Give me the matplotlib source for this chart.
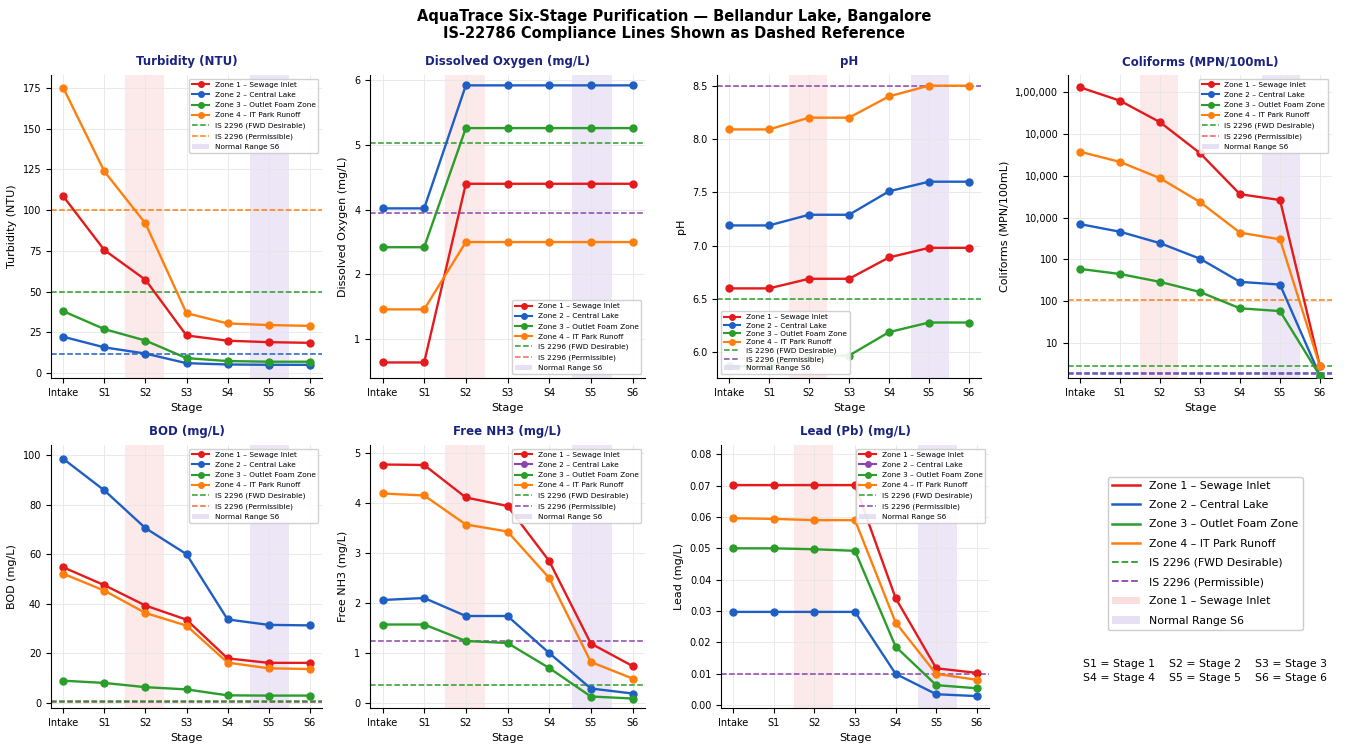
import numpy as np
import matplotlib
matplotlib.use("Agg")
import matplotlib.pyplot as plt
from matplotlib.lines import Line2D
from matplotlib.patches import Patch
from matplotlib.ticker import FixedLocator, FixedFormatter, NullLocator

plt.rcParams['font.family'] = ['DejaVu Sans']

stages = ['Intake', 'S1', 'S2', 'S3', 'S4', 'S5', 'S6']
zones = ['Zone 1 – Sewage Inlet', 'Zone 2 – Central Lake',
         'Zone 3 – Outlet Foam Zone', 'Zone 4 – IT Park Runoff']

turb_z1 = [108.5, 75.5, 57.3, 23.1, 19.9, 19.0, 18.6]
turb_z2 = [22.3, 15.8, 12.0, 6.1, 5.3, 5.1, 5.1]
turb_z3 = [38.0, 27.0, 20.0, 9.2, 7.4, 7.0, 7.0]
turb_z4 = [175.0, 123.8, 91.9, 36.8, 30.5, 29.5, 29.0]

do_z1 = [1.64, 1.64, 4.40, 4.40, 4.40, 4.40, 4.40]
do_z2 = [4.02, 4.02, 5.92, 5.92, 5.92, 5.92, 5.92]
do_z3 = [3.42, 3.42, 5.26, 5.26, 5.26, 5.26, 5.26]
do_z4 = [2.46, 2.46, 3.50, 3.50, 3.50, 3.50, 3.50]

ph_z1 = [6.60, 6.60, 6.69, 6.69, 6.89, 6.98, 6.98]
ph_z2 = [7.19, 7.19, 7.29, 7.29, 7.51, 7.60, 7.60]
ph_z3 = [5.87, 5.87, 5.97, 5.97, 6.19, 6.28, 6.28]
ph_z4 = [8.09, 8.09, 8.20, 8.20, 8.40, 8.50, 8.50]

coli_z1 = [1.32e7, 6.3e6, 1.93e6, 3.5e5, 3.64e4, 2.64e4, 2.75]
coli_z2 = [7.0e3, 4.6e3, 2.45e3, 1.04e3, 290, 250, 1.63]
coli_z3 = [593, 448, 290, 166, 67.5, 58, 1.63]
coli_z4 = [3.78e5, 2.16e5, 8.8e4, 2.36e4, 4.38e3, 3.02e3, 2.75]

bod_z1 = [54.7, 47.5, 39.3, 33.6, 18.0, 16.2, 16.2]
bod_z2 = [98.4, 85.7, 70.5, 60.0, 33.7, 31.5, 31.3]
bod_z3 = [9.0, 8.1, 6.4, 5.5, 3.1, 3.0, 3.0]
bod_z4 = [52.1, 45.3, 36.3, 31.2, 16.3, 14.0, 13.7]

nh3_z1 = [4.77, 4.76, 4.11, 3.94, 2.84, 1.19, 0.74]
nh3_z2 = [2.06, 2.10, 1.74, 1.74, 1.00, 0.29, 0.19]
nh3_z3 = [1.57, 1.57, 1.24, 1.20, 0.70, 0.13, 0.09]
nh3_z4 = [4.19, 4.15, 3.57, 3.43, 2.50, 0.82, 0.49]

pb_z1 = [0.0702, 0.0702, 0.0702, 0.0702, 0.0341, 0.0117, 0.0102]
pb_z2 = [0.0297, 0.0297, 0.0297, 0.0297, 0.0099, 0.0034, 0.0028]
pb_z3 = [0.0500, 0.0500, 0.0497, 0.0492, 0.0186, 0.0063, 0.0053]
pb_z4 = [0.0596, 0.0594, 0.0590, 0.0590, 0.0263, 0.0099, 0.0080]

RED = '#e41a1c'
BLUE = '#1f5fc4'
GREEN = '#2a9d2a'
ORANGE = '#ff7f0e'
PURPLE = '#8e44ad'
NAVY = '#1a237e'
PINK_BAND = '#f9cfcf'
LAV_BAND = '#ddd3f0'

# title, ylabel, data, (value, color) reference lines, legend loc, legend colours (zone2, permissible), ylim
panels = [
    ('Turbidity (NTU)', 'Turbidity (NTU)', [turb_z1, turb_z2, turb_z3, turb_z4],
     [(50, GREEN), (100, ORANGE), (11.5, BLUE)], 'upper right', BLUE, ORANGE, (-3, 183)),
    ('Dissolved Oxygen (mg/L)', 'Dissolved Oxygen (mg/L)', [do_z1, do_z2, do_z3, do_z4],
     [(5.03, GREEN), (3.95, PURPLE)], 'lower right', BLUE, '#ef6a5a', (1.4, 6.08)),
    ('pH', 'pH', [ph_z1, ph_z2, ph_z3, ph_z4],
     [(6.5, GREEN), (8.5, PURPLE)], 'lower left', BLUE, PURPLE, (5.76, 8.6)),
    ('Coliforms (MPN/100mL)', 'Coliforms (MPN/100mL)', [coli_z1, coli_z2, coli_z3, coli_z4],
     [(2.75, GREEN), (105, ORANGE), (1.95, BLUE), (1.85, PURPLE)], 'upper right', BLUE, '#ef5a5a', (1.45, 2.6e7)),
    ('BOD (mg/L)', 'BOD (mg/L)', [bod_z1, bod_z2, bod_z3, bod_z4],
     [(0.9, GREEN), (0.6, '#6b5b4b')], 'upper right', BLUE, '#f4683a', (-2, 104)),
    ('Free NH3 (mg/L)', 'Free NH3 (mg/L)', [nh3_z1, nh3_z2, nh3_z3, nh3_z4],
     [(0.355, GREEN), (1.25, PURPLE)], 'upper right', PURPLE, PURPLE, (-0.1, 5.16)),
    ('Lead (Pb) (mg/L)', 'Lead (mg/L)', [pb_z1, pb_z2, pb_z3, pb_z4],
     [(0.01, PURPLE)], 'upper right', PURPLE, PURPLE, (-0.001, 0.083)),
]

W, H = 1348, 746
rects = [(51, 75, 271, 303), (370, 75, 275, 303), (717, 75, 264, 303), (1068, 75, 264, 303),
         (51, 445, 271, 263), (370, 445, 275, 263), (721, 445, 268, 263)]

fig = plt.figure(figsize=(W / 100, H / 100), dpi=100)
fig.suptitle('AquaTrace Six-Stage Purification — Bellandur Lake, Bangalore\n'
             'IS-22786 Compliance Lines Shown as Dashed Reference',
             fontsize=10.5, fontweight='bold', y=0.988)

x = np.arange(len(stages))
zcolors = [RED, BLUE, GREEN, ORANGE]

for (title, ylab, data, refs, loc, z2col, permcol, ylim), (l, t, w, h) in zip(panels, rects):
    ax = fig.add_axes([l / W, 1 - (t + h) / H, w / W, h / H])
    ax.axvspan(1.5, 2.45, color=PINK_BAND, alpha=0.45, lw=0, zorder=0)
    ax.axvspan(4.55, 5.5, color=LAV_BAND, alpha=0.55, lw=0, zorder=0)
    for val, col in refs:
        ax.axhline(val, color=col, ls='--', lw=1.1, zorder=1)
    for series, col in zip(data, zcolors):
        ax.plot(x, series, color=col, marker='o', ms=5, lw=1.7, zorder=3)
    if title.startswith('Coliforms'):
        ax.set_yscale('log')
        ax.yaxis.set_major_locator(FixedLocator([1e7, 1e6, 1e5, 1e4, 1e3, 1e2, 1e1]))
        ax.yaxis.set_major_formatter(FixedFormatter(['1,00,000', '10,000', '10,000', '10,000',
                                                     '100', '100', '10']))
        ax.yaxis.set_minor_locator(NullLocator())
    if title.startswith('Dissolved'):
        ax.yaxis.set_major_locator(FixedLocator([2, 3, 4, 5, 6]))
        ax.yaxis.set_major_formatter(FixedFormatter(['1', '2', '4', '5', '6']))
    ax.set_ylim(*ylim)
    ax.set_xticks(x)
    ax.set_xticklabels(stages)
    ax.set_title(title, fontsize=8.5, fontweight='bold', color=NAVY, pad=7)
    ax.set_xlabel('Stage', fontsize=8)
    ax.set_ylabel(ylab, fontsize=8)
    ax.tick_params(labelsize=7)
    ax.grid(True, color='#e6e6e6', lw=0.6)
    ax.set_axisbelow(True)
    for s in ['top', 'right']:
        ax.spines[s].set_visible(False)
    handles = [Line2D([], [], color=RED, marker='o', ms=4, lw=1.5),
               Line2D([], [], color=z2col, marker='o', ms=4, lw=1.5),
               Line2D([], [], color=GREEN, marker='o', ms=4, lw=1.5),
               Line2D([], [], color=ORANGE, marker='o', ms=4, lw=1.5),
               Line2D([], [], color=GREEN, ls='--', lw=1.1),
               Line2D([], [], color=permcol, ls='--', lw=1.1),
               Patch(facecolor=LAV_BAND, alpha=0.7, edgecolor='none')]
    labels = zones + ['IS 2296 (FWD Desirable)', 'IS 2296 (Permissible)', 'Normal Range S6']
    leg = ax.legend(handles, labels, loc=loc, fontsize=5.3, framealpha=0.9,
                    handlelength=2.2, labelspacing=0.55 if loc != 'lower left' else 0.3)
    leg.set_zorder(5)

# overall legend panel
lax = fig.add_axes([1068 / W, 1 - 708 / H, 264 / W, 263 / H])
lax.axis('off')
gh = [Line2D([], [], color=RED, lw=1.8),
      Line2D([], [], color=BLUE, lw=1.8),
      Line2D([], [], color=GREEN, lw=1.8),
      Line2D([], [], color=ORANGE, lw=1.8),
      Line2D([], [], color=GREEN, ls='--', lw=1.3),
      Line2D([], [], color=PURPLE, ls='--', lw=1.3),
      Patch(facecolor=PINK_BAND, alpha=0.7, edgecolor='none'),
      Patch(facecolor=LAV_BAND, alpha=0.7, edgecolor='none')]
gl = zones + ['IS 2296 (FWD Desirable)', 'IS 2296 (Permissible)',
              'Zone 1 – Sewage Inlet', 'Normal Range S6']
lax.legend(gh, gl, loc='upper center', bbox_to_anchor=(0.52, 0.90), fontsize=7.8,
           framealpha=1, labelspacing=0.85, handlelength=2.6)
lax.text(0.52, 0.14, 'S1 = Stage 1    S2 = Stage 2    S3 = Stage 3\n'
                     'S4 = Stage 4    S5 = Stage 5    S6 = Stage 6',
         transform=lax.transAxes, ha='center', va='center', fontsize=7.8, linespacing=1.5)

fig.savefig('out.png', dpi=100)
